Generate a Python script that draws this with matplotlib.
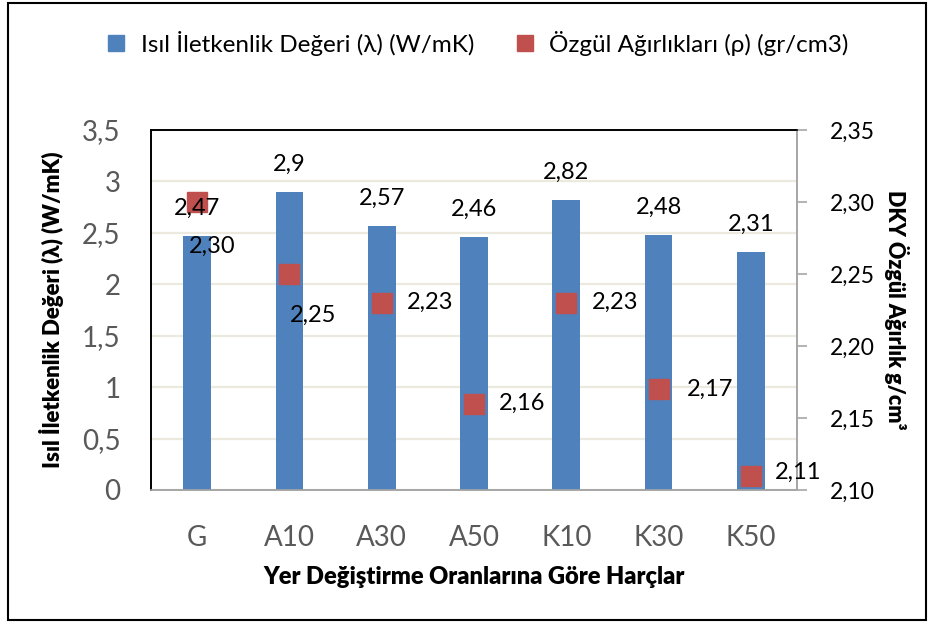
import matplotlib
matplotlib.use("Agg")
import matplotlib.pyplot as plt
from matplotlib.patches import Rectangle
from matplotlib.lines import Line2D

plt.rcParams['font.family'] = ['Lato', 'DejaVu Sans']

categories = ["G", "A10", "A30", "A50", "K10", "K30", "K50"]
conductivity = [2.47, 2.9, 2.57, 2.46, 2.82, 2.48, 2.31]
density = [2.30, 2.25, 2.23, 2.16, 2.23, 2.17, 2.11]
left_ticks = [0, 0.5, 1, 1.5, 2, 2.5, 3, 3.5]
left_tick_labels = ["0", "0,5", "1", "1,5", "2", "2,5", "3", "3,5"]
right_ticks = [2.10, 2.15, 2.20, 2.25, 2.30, 2.35]
right_tick_labels = ["2,10", "2,15", "2,20", "2,25", "2,30", "2,35"]
cond_labels = ["2,47", "2,9", "2,57", "2,46", "2,82", "2,48", "2,31"]
dens_labels = ["2,30", "2,25", "2,23", "2,16", "2,23", "2,17", "2,11"]

# label offsets in points (style/position only)
dens_offsets = [(11, -32), (17, -30), (35, 0), (35, 0), (35, 0), (37, 0), (34, 2)]

blue = "#4F81BD"
red = "#C0504D"

fig = plt.figure(figsize=(9.34, 6.28), dpi=100)
ax = fig.add_axes([151/934, 1 - 490/628, (797-151)/934, (490-130)/628])
ax2 = ax.twinx()

x = list(range(len(categories)))
ax.bar(x, conductivity, width=0.30, color=blue, zorder=3)
ax.set_xlim(-0.5, len(categories) - 0.5)
ax.set_ylim(0, 3.5)
ax.set_yticks(left_ticks)
ax.set_yticklabels(left_tick_labels, fontsize=20, color="#595959")
ax.set_xticks(x)
ax.set_xticklabels(categories, fontsize=20, color="#595959")
ax.tick_params(axis='x', length=0, pad=25)
ax.tick_params(axis='y', length=0, pad=22)
ax.grid(axis='y', color="#ECE9DF", linewidth=1.6, zorder=0)
ax.set_axisbelow(True)

ax2.plot(x, density, linestyle="none", marker="s", markersize=14,
         color=red, zorder=5)
ax2.set_ylim(2.10, 2.35)
ax2.set_yticks(right_ticks)
ax2.set_yticklabels(right_tick_labels, fontsize=16.5, color="black")
ax2.tick_params(axis='y', length=7, width=1.2, color="#A6A6A6", direction="out", pad=17)

for xi, v, lab in zip(x, conductivity, cond_labels):
    ax2.annotate(lab, (xi, v), xycoords=ax.transData, xytext=(0, 20),
                 textcoords="offset points", ha="center", va="center",
                 fontsize=17, color="black", zorder=6, annotation_clip=False)

for xi, v, lab, off in zip(x, density, dens_labels, dens_offsets):
    ax2.annotate(lab, (xi, v), xytext=off, textcoords="offset points",
                 ha="center", va="center", fontsize=17, color="black", zorder=6,
                 annotation_clip=False)

for a in (ax, ax2):
    a.spines['left'].set_color("black")
    a.spines['top'].set_color("black")
    a.spines['right'].set_color("#A6A6A6")
    a.spines['bottom'].set_color("#A6A6A6")
    for s in a.spines.values():
        s.set_linewidth(1.2)

ax.set_ylabel("Isıl İletkenlik Değeri (λ) (W/mK)", fontsize=16, fontweight="heavy", labelpad=13)
ax2.set_ylabel("DKY Özgül Ağırlık g/cm³", fontsize=15.5, fontweight="heavy",
               rotation=270, labelpad=24)
ax.set_xlabel("Yer Değiştirme Oranlarına Göre Harçlar", fontsize=17, fontweight="heavy", labelpad=11)

handles = [Line2D([0], [0], marker="s", linestyle="none", color=blue, markersize=11),
           Line2D([0], [0], marker="s", linestyle="none", color=red, markersize=11)]
fig.legend(handles, ["Isıl İletkenlik Değeri (λ) (W/mK)", "Özgül Ağırlıkları (ρ) (gr/cm3)"],
           loc="center", bbox_to_anchor=(0.51, 1 - 43/628), ncol=2, frameon=False,
           fontsize=17.5, handletextpad=0.5, columnspacing=1.6, handlelength=1.0)

fig.patches.append(Rectangle((8/934, 1 - 620/628), (926-8)/934, (620-3)/628,
                             transform=fig.transFigure, fill=False,
                             edgecolor="black", linewidth=1.5))

fig.savefig("out.png", dpi=100)
